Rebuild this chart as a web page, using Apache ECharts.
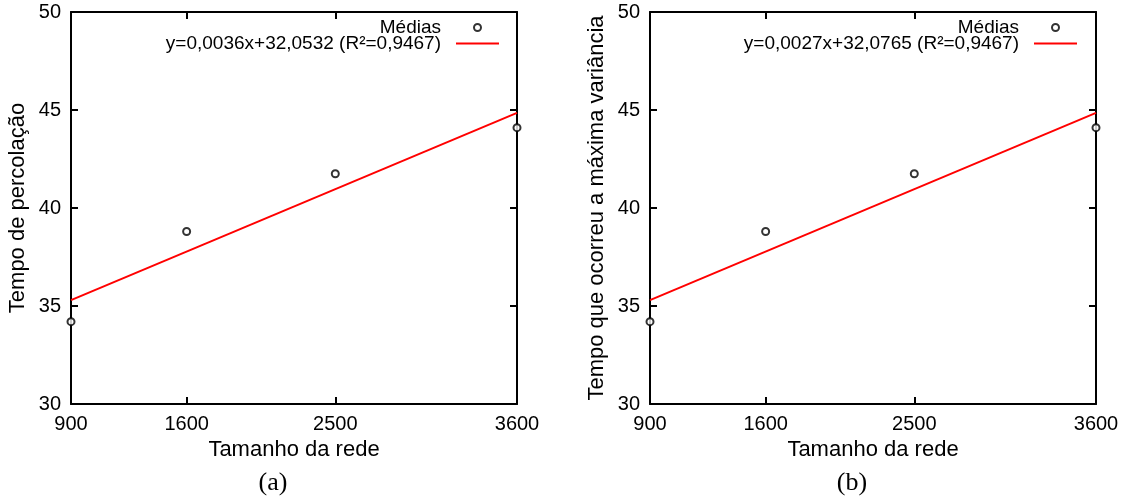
<!DOCTYPE html>
<html><head><meta charset="utf-8">
<script src="https://cdn.jsdelivr.net/npm/echarts@6/dist/echarts.min.js"></script>
<style>html,body{margin:0;padding:0;background:#fff}#c{width:1128px;height:499px}</style>
</head><body><div id="c"></div>
<script>
const xTicks = [900, 1600, 2500, 3600];
const xInnerTicks = [1600, 2500];
const sizes = [900, 1600, 2500, 3600];
const meansA = [34.2, 38.8, 41.75, 44.1];
const meansB = [34.2, 38.8, 41.75, 44.1];
const fitXA = [900, 3600];
const fitYA = [35.3, 44.85];
const fitXB = [900, 3600];
const fitYB = [35.3, 44.85];
const labelMeans = 'Médias';
const labelFitA = 'y=0,0036x+32,0532 (R²=0,9467)';
const labelFitB = 'y=0,0027x+32,0765 (R²=0,9467)';
const xName = 'Tamanho da rede';
const yNameA = 'Tempo de percolação';
const yNameB = 'Tempo que ocorreu a máxima variância';
const captions = ['(a)', '(b)'];

const FONT = '"Liberation Sans", Arial, sans-serif';
const lineStyle = {color: '#000', width: 2};
const grids = [
  {left: 71, top: 12, width: 446, height: 392},
  {left: 650, top: 12, width: 446, height: 392}
];
function xAxes(gi) {
  return [{
    type: 'value', gridIndex: gi, min: 900, max: 3600, position: 'bottom',
    name: xName, nameLocation: 'middle', nameGap: 30,
    nameTextStyle: {fontFamily: FONT, fontSize: 22, color: '#000'},
    axisLine: {show: true, lineStyle: lineStyle},
    axisTick: {show: true, inside: true, length: 7, customValues: xTicks, lineStyle: lineStyle},
    axisLabel: {show: true, customValues: xTicks, formatter: v => String(v), fontFamily: FONT, fontSize: 20, color: '#000', margin: 10},
    splitLine: {show: false}
  }, {
    type: 'value', gridIndex: gi, min: 900, max: 3600, position: 'top',
    axisLine: {show: true, lineStyle: lineStyle},
    axisTick: {show: true, inside: true, length: 7, customValues: xInnerTicks, lineStyle: lineStyle},
    axisLabel: {show: false},
    splitLine: {show: false}
  }];
}
function yAxes(gi, nm) {
  return [{
    type: 'value', gridIndex: gi, min: 30, max: 50, interval: 5, position: 'left',
    name: nm, nameLocation: 'middle', nameGap: 42,
    nameTextStyle: {fontFamily: FONT, fontSize: 22, color: '#000'},
    axisLine: {show: true, lineStyle: lineStyle},
    axisTick: {show: true, inside: true, length: 7, lineStyle: lineStyle},
    axisLabel: {show: true, fontFamily: FONT, fontSize: 20, color: '#000', margin: 10},
    splitLine: {show: false}
  }, {
    type: 'value', gridIndex: gi, min: 30, max: 50, interval: 5, position: 'right',
    axisLine: {show: true, lineStyle: lineStyle},
    axisTick: {show: true, inside: true, length: 7, lineStyle: lineStyle},
    axisLabel: {show: false},
    splitLine: {show: false}
  }];
}
function pts(xs, ys) { return xs.map((x, i) => [x, ys[i]]); }
function scatter(xi, yi, data) {
  return {
    name: labelMeans, type: 'scatter', xAxisIndex: xi, yAxisIndex: yi,
    data: data, symbol: 'emptyCircle', symbolSize: 7, clip: false, z: 5,
    itemStyle: {color: '#000', borderColor: '#000', borderWidth: 1.1},
    emphasis: {disabled: true}
  };
}
function fit(name, xi, yi, data) {
  return {
    name: name, type: 'line', xAxisIndex: xi, yAxisIndex: yi, data: data,
    showSymbol: false, symbol: 'none', clip: false, z: 4,
    lineStyle: {color: '#ff0000', width: 2}, itemStyle: {color: '#ff0000'},
    emphasis: {disabled: true}
  };
}
function legend(right, fitName) {
  return {
    right: right, top: 13, orient: 'vertical', align: 'right',
    itemWidth: 43, itemHeight: 7, itemGap: -3,
    textStyle: {fontFamily: FONT, fontSize: 19, color: '#000', lineHeight: 15, padding: [0, 10, 0, 0]},
    data: [labelMeans, {name: fitName, icon: 'path://M0,0H43V2H0Z'}],
    selectedMode: false
  };
}
const option = {
  animation: false,
  backgroundColor: '#fff',
  grid: grids,
  xAxis: [...xAxes(0), ...xAxes(1)],
  yAxis: [...yAxes(0, yNameA), ...yAxes(1, yNameB)],
  legend: [legend(624, labelFitA), legend(46, labelFitB)],
  series: [
    scatter(0, 0, pts(sizes, meansA)),
    fit(labelFitA, 0, 0, pts(fitXA, fitYA)),
    scatter(2, 2, pts(sizes, meansB)),
    fit(labelFitB, 2, 2, pts(fitXB, fitYB))
  ],
  graphic: [
    {type: 'text', x: 273, y: 483, style: {text: captions[0], font: '26px "Liberation Serif", serif', fill: '#000', textAlign: 'center', textVerticalAlign: 'middle'}},
    {type: 'text', x: 852, y: 483, style: {text: captions[1], font: '26px "Liberation Serif", serif', fill: '#000', textAlign: 'center', textVerticalAlign: 'middle'}}
  ]
};
const chart = echarts.init(document.getElementById('c'), null, {renderer: 'canvas'});
chart.setOption(option);
</script></body></html>
